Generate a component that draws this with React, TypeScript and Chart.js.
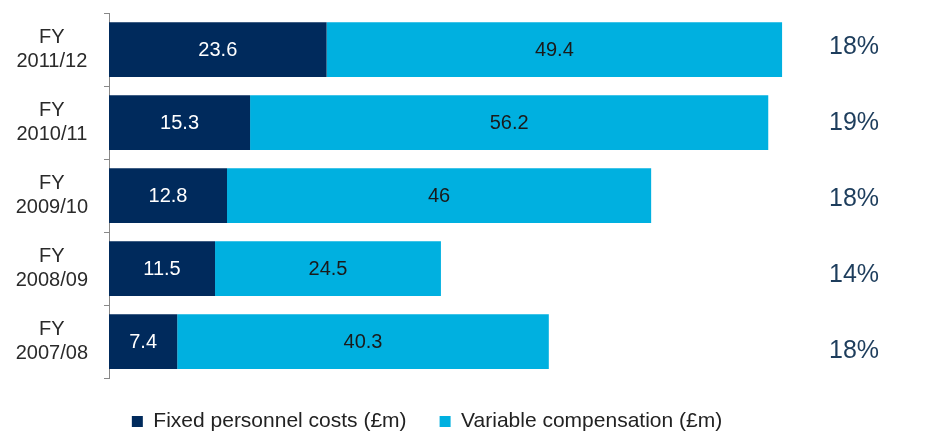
import React, { useEffect, useRef } from "react";
import { Chart, registerables } from "chart.js";

Chart.register(...registerables);

const categories = [
  ["FY", "2011/12"],
  ["FY", "2010/11"],
  ["FY", "2009/10"],
  ["FY", "2008/09"],
  ["FY", "2007/08"],
];
const fixedCosts = [23.6, 15.3, 12.8, 11.5, 7.4];
const variableComp = [49.4, 56.2, 46, 24.5, 40.3];
const shareLabels = ["18%", "19%", "18%", "14%", "18%"];
const seriesNames = ["Fixed personnel costs (£m)", "Variable compensation (£m)"];

const NAVY = "#002a5c";
const CYAN = "#00b0e0";
const FONT = "'Liberation Sans', Arial, sans-serif";

const barLabelsPlugin = {
  id: "barLabels",
  afterDatasetsDraw(chart: any) {
    const ctx = chart.ctx;
    ctx.save();
    ctx.font = `20px ${FONT}`;
    ctx.textAlign = "center";
    ctx.textBaseline = "middle";
    chart.data.datasets.forEach((ds: any, di: number) => {
      const meta = chart.getDatasetMeta(di);
      meta.data.forEach((el: any, i: number) => {
        const cx = (el.x + el.base) / 2;
        ctx.fillStyle = di === 0 ? "#ffffff" : "#1a1a1a";
        ctx.fillText(String(ds.data[i]), cx, el.y + 1);
      });
    });
    // share labels in the right margin, on a slightly wider spacing than the bars
    const meta = chart.getDatasetMeta(1);
    ctx.font = `25px ${FONT}`;
    ctx.fillStyle = "#1d3d5c";
    meta.data.forEach((el: any, i: number) => {
      ctx.fillText(shareLabels[i], chart.chartArea.right, el.y - 2 + i * 3);
    });
    ctx.restore();
  },
};

export default function App() {
  const ref = useRef<HTMLCanvasElement | null>(null);
  useEffect(() => {
    if (!ref.current) return;
    Chart.defaults.font.family = FONT;
    const chart = new Chart(ref.current, {
      type: "bar",
      data: {
        labels: categories,
        datasets: [
          {
            label: seriesNames[0],
            data: fixedCosts,
            backgroundColor: NAVY,
            borderWidth: 0,
            barPercentage: 0.75,
            categoryPercentage: 1,
          },
          {
            label: seriesNames[1],
            data: variableComp,
            backgroundColor: CYAN,
            borderWidth: 0,
            barPercentage: 0.75,
            categoryPercentage: 1,
          },
        ],
      },
      options: {
        indexAxis: "y",
        animation: false,
        responsive: true,
        maintainAspectRatio: false,
        layout: { padding: { top: 13, right: 80, bottom: 0, left: 0 } },
        scales: {
          x: {
            stacked: true,
            display: false,
            min: 0,
            max: 80.8,
          },
          y: {
            stacked: true,
            offset: true,
            grid: {
              drawOnChartArea: false,
              tickLength: 5,
              color: "#888888",
              offset: true,
            },
            border: { color: "#888888" },
            ticks: {
              crossAlign: "center",
              padding: 16,
              color: "#2a2a2a",
              font: { size: 20, lineHeight: 1.2 },
            },
            afterFit: (s: any) => {
              s.width = 109;
              s.paddingTop = 0;
              s.paddingBottom = 0;
            },
          },
        },
        plugins: {
          tooltip: { enabled: false },
          legend: {
            position: "bottom",
            labels: {
              boxWidth: 11,
              boxHeight: 11,
              padding: 33,
              color: "#222222",
              font: { size: 21 },
            },
          },
        },
      },
      plugins: [barLabelsPlugin],
    } as any);
    return () => chart.destroy();
  }, []);
  return (
    <div style={{ position: "fixed", left: 0, top: 0, width: 934, height: 442, background: "#fff" }}>
      <canvas ref={ref} />
    </div>
  );
}
